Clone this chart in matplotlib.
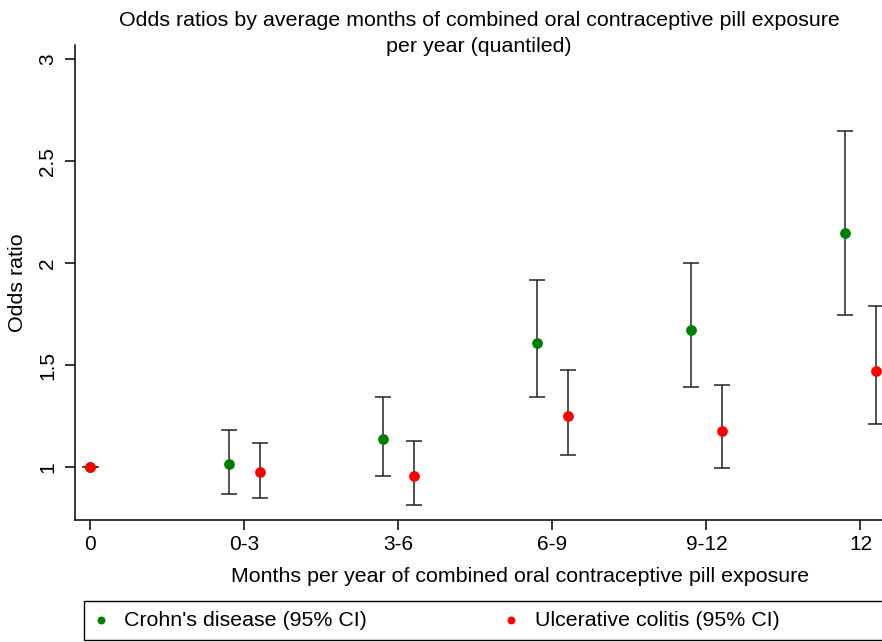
import numpy as np
import matplotlib.pyplot as plt
from matplotlib.patches import Rectangle

plt.rcParams['font.family'] = ['Liberation Sans', 'DejaVu Sans']

groups = ["0", "0-3", "3-6", "6-9", "9-12", "12"]
cd_or = [1.0, 1.013, 1.137, 1.608, 1.672, 2.149]
cd_lo = [1.0, 0.867, 0.956, 1.343, 1.392, 1.747]
cd_hi = [1.0, 1.180, 1.343, 1.917, 2.000, 2.647]
uc_or = [1.0, 0.975, 0.956, 1.250, 1.176, 1.472]
uc_lo = [1.0, 0.848, 0.814, 1.059, 0.995, 1.211]
uc_hi = [1.0, 1.117, 1.127, 1.475, 1.402, 1.790]

x = np.arange(len(groups))
off = np.array([0] + [0.1] * (len(groups) - 1))

fig = plt.figure(figsize=(8.82, 6.42), dpi=100)
ax = fig.add_axes([0.085, 0.19, 0.915, 0.74])

cd_or = np.array(cd_or); uc_or = np.array(uc_or)
cd_err = [cd_or - np.array(cd_lo), np.array(cd_hi) - cd_or]
uc_err = [uc_or - np.array(uc_lo), np.array(uc_hi) - uc_or]

ax.errorbar(x[1:] - off[1:], cd_or[1:], yerr=[e[1:] for e in cd_err], fmt='none',
            ecolor='#222222', elinewidth=1.1, capsize=6, capthick=1.1)
ax.errorbar(x[1:] + off[1:], uc_or[1:], yerr=[e[1:] for e in uc_err], fmt='none',
            ecolor='#222222', elinewidth=1.1, capsize=6, capthick=1.1)
ax.plot([x[0] - 0.05, x[0] + 0.05], [1, 1], color='black', lw=1.1)
cd = ax.scatter(x - off, cd_or, s=45, color='#007f00', zorder=3, label="Crohn's disease (95% CI)")
uc = ax.scatter(x + off, uc_or, s=45, color='#ff0000', zorder=4, label="Ulcerative colitis (95% CI)")

ax.set_xlim(-0.1, 5.14)
ax.set_ylim(0.74, 3.07)
ax.set_xticks(x)
ax.set_xticklabels(groups)
ax.set_yticks([1, 1.5, 2, 2.5, 3])
ax.set_yticklabels(["1", "1.5", "2", "2.5", "3"], rotation=90, va='center')
ax.tick_params(labelsize=15, length=7, width=1.1)
ax.tick_params(axis='y', pad=6)
ax.spines['top'].set_visible(False)
ax.spines['right'].set_visible(False)
ax.spines['left'].set_linewidth(1.1)
ax.spines['bottom'].set_linewidth(1.1)
ax.set_xlabel("Months per year of combined oral contraceptive pill exposure", fontsize=15.4, labelpad=8)
ax.xaxis.set_label_coords(0.551, -0.098)
ax.set_ylabel("Odds ratio", fontsize=15.4, labelpad=8)
fig.suptitle("Odds ratios by average months of combined oral contraceptive pill exposure\nper year (quantiled)",
             fontsize=15.4, x=0.543, y=0.983, linespacing=1.45)

# legend box running off the bottom/right edge
fig.patches.append(Rectangle((84 / 882, 2 / 642), 1.0, 39 / 642, transform=fig.transFigure,
                             fill=False, edgecolor='black', linewidth=1.0))
leg = fig.legend(handles=[cd, uc], loc='center left', bbox_to_anchor=(0.078, 0.034),
                 ncol=2, fontsize=15.4, frameon=False, handletextpad=0.5,
                 columnspacing=6.12, markerscale=0.7, handlelength=1.2)

fig.savefig("out.png", dpi=100)
